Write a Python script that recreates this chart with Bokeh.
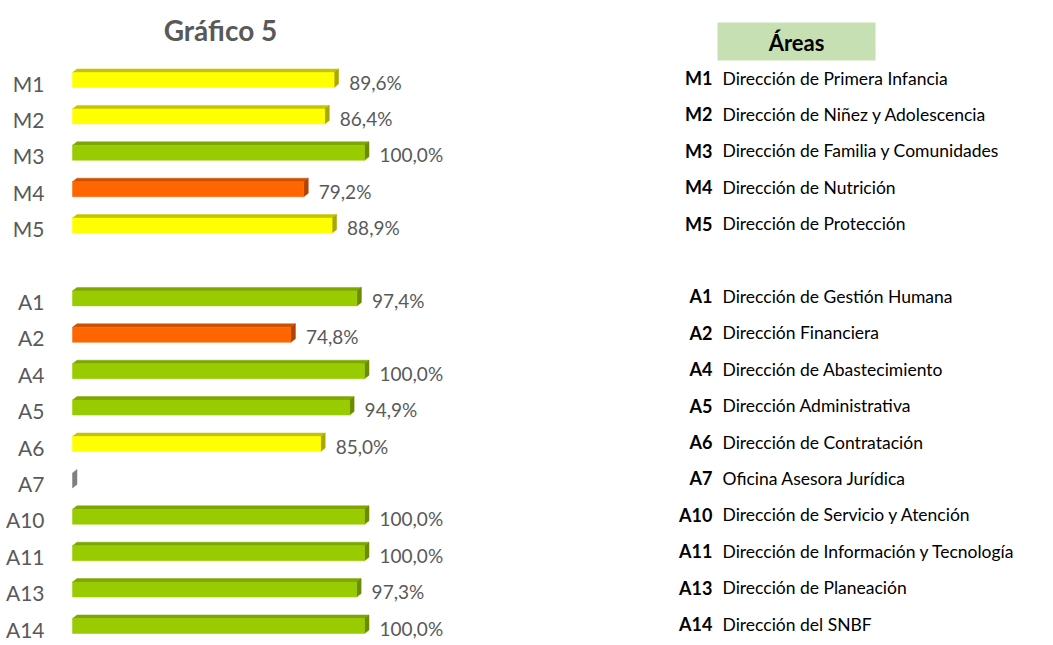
from bokeh.plotting import figure
from bokeh.models import Range1d
from bokeh.embed import file_html
from bokeh.resources import INLINE
from bokeh.core.properties import value

# ---------------- data ----------------
title_text = "Gráfico 5"
legend_title = "Áreas"
categories = ["M1", "M2", "M3", "M4", "M5",
              "A1", "A2", "A4", "A5", "A6", "A7", "A10", "A11", "A13", "A14"]
values = [89.6, 86.4, 100.0, 79.2, 88.9,
          97.4, 74.8, 100.0, 94.9, 85.0, None, 100.0, 100.0, 97.3, 100.0]
descriptions = [
    "Dirección de Primera Infancia",
    "Dirección de Niñez y Adolescencia",
    "Dirección de Familia y Comunidades",
    "Dirección de Nutrición",
    "Dirección de Protección",
    "Dirección de Gestión Humana",
    "Dirección Financiera",
    "Dirección de Abastecimiento",
    "Dirección Administrativa",
    "Dirección de Contratación",
    "Oficina Asesora Jurídica",
    "Dirección de Servicio y Atención",
    "Dirección de Información y Tecnología",
    "Dirección de Planeación",
    "Dirección del SNBF",
]
gap_after = "M5"

# ---------------- layout ----------------
W, H = 1053, 645
X0 = 72          # screen px of 0 %
PX_PCT = 2.92    # px per percentage point
ROW0 = 79.5      # screen px of first row centre
ROW = 36.4       # px per row

def xd(px):
    return (px - X0) / PX_PCT

def yd(py):
    return (py - ROW0) / ROW

p = figure(width=W, height=H, output_backend="svg", toolbar_location=None,
           x_range=Range1d(xd(0), xd(W)),
           y_range=Range1d(yd(H), yd(0)),
           min_border=0)
p.axis.visible = False
p.grid.visible = False
p.outline_line_color = None
p.background_fill_color = "white"
p.border_fill_color = "white"

# row positions
rows = []
idx = 0
for c in categories:
    rows.append(idx)
    idx += 1
    if c == gap_after:
        idx += 1

PALETTE = {
    "green": ("#99CC00", "#7FA600", "#6B8C00"),
    "yellow": ("#FFFF00", "#C4C400", "#A8A800"),
    "orange": ("#FF6600", "#CC5200", "#B04400"),
    "none": ("#A0A0A0", "#909090", "#808080"),
}

def status(v):
    if v is None:
        return "none"
    if v >= 90:
        return "green"
    if v >= 80:
        return "yellow"
    return "orange"

hh = 7.5 / ROW
dx = 4.5 / PX_PCT
dy = 3.5 / ROW

fl, fr, ft, fb, fc = [], [], [], [], []
txs, tys, tcs = [], [], []
sxs, sys_, scs = [], [], []
for v, r in zip(values, rows):
    s = status(v)
    front, top, side = PALETTE[s]
    vv = 0 if v is None else v
    if v is not None:
        fl.append(0); fr.append(vv); ft.append(r - hh); fb.append(r + hh); fc.append(front)
        txs.append([0, dx, vv + dx, vv])
        tys.append([r - hh, r - hh - dy, r - hh - dy, r - hh])
        tcs.append(top)
    sxs.append([vv, vv + dx, vv + dx, vv])
    sys_.append([r - hh, r - hh - dy, r + hh - dy, r + hh])
    scs.append(side)

p.patches(xs=txs, ys=tys, fill_color=tcs, line_color=tcs, line_width=0.5)
p.patches(xs=sxs, ys=sys_, fill_color=scs, line_color=scs, line_width=0.5)
p.quad(left=fl, right=fr, top=ft, bottom=fb, fill_color=fc, line_color=fc, line_width=0.5)

FONT = value("Lato")
GREY = "#595959"

# value labels
lab_x, lab_y, lab_t = [], [], []
for v, r in zip(values, rows):
    if v is None:
        continue
    lab_x.append(v + 15 / PX_PCT)
    lab_y.append(r + 2 / ROW)
    lab_t.append(f"{v:.1f}".replace(".", ",") + "%")
p.text(x=lab_x, y=lab_y, text=lab_t, text_font=FONT, text_font_size="19px",
       text_color=GREY, text_align="left", text_baseline="middle")

# category labels
p.text(x=[xd(44)] * len(categories), y=[r + 3 / ROW for r in rows], text=categories,
       text_font=FONT, text_font_size="21px", text_color=GREY,
       text_align="right", text_baseline="middle")

# title
p.text(x=[xd(220)], y=[yd(29)], text=[title_text], text_font=FONT,
       text_font_size="28px", text_font_style="bold", text_color=GREY,
       text_align="center", text_baseline="middle")

# legend header
p.quad(left=[xd(717)], right=[xd(875)], top=[yd(22)], bottom=[yd(60)],
       fill_color="#C6E0B4", line_color=None)
p.text(x=[xd(796)], y=[yd(42)], text=[legend_title], text_font=FONT,
       text_font_size="22px", text_font_style="bold", text_color="black",
       text_align="center", text_baseline="middle")

# legend rows
ly = [r - 2 / ROW for r in rows]
p.text(x=[xd(712)] * len(categories), y=ly, text=categories, text_font=FONT,
       text_font_size="18px", text_font_style="bold", text_color="black",
       text_align="right", text_baseline="middle")
p.text(x=[xd(722)] * len(descriptions), y=ly, text=descriptions, text_font=FONT,
       text_font_size="17.5px", text_color="black",
       text_align="left", text_baseline="middle")

open("out.html", "w").write(file_html(p, INLINE))
